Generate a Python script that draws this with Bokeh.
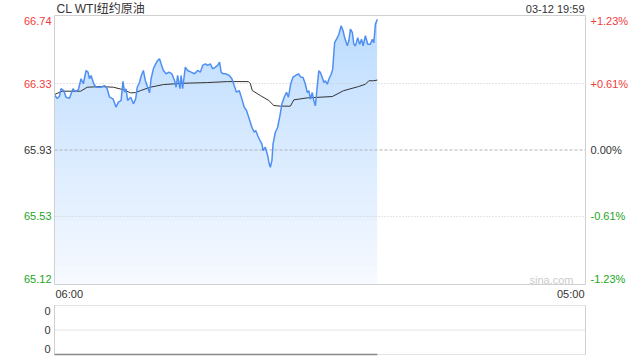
import numpy as np
from bokeh.plotting import figure
from bokeh.layouts import column
from bokeh.models import Range1d, Label
from bokeh.embed import file_html
from bokeh.resources import INLINE

# ---------------- data ----------------
title_text = "CL WTI纽约原油"
stamp_text = "03-12 19:59"
watermark = "sina.com"
prev_close = 65.93
session_minutes = 1380            # 06:00 -> 05:00 next day
price_ticks = [66.74, 66.33, 65.93, 65.53, 65.12]
price_tick_labels = ["66.74", "66.33", "65.93", "65.53", "65.12"]
pct_tick_labels = ["+1.23%", "+0.61%", "0.00%", "-0.61%", "-1.23%"]
time_labels = ["06:00", "05:00"]

# minutes since 06:00
t_min = [0, 7, 13, 17, 24, 30, 39, 48, 54, 62, 69, 75, 82, 87, 91, 95, 102, 108, 121, 130,
         137, 143, 152, 160, 166, 173, 178, 182, 186, 190, 198, 205, 211, 215, 221, 225, 231, 236, 242, 247,
         251, 257, 263, 268, 273, 277, 283, 290, 298, 305, 312, 316, 320, 326, 329, 333, 340, 346, 355, 364,
         372, 379, 385, 392, 398, 405, 411, 418, 424, 429, 433, 439, 445, 454, 461, 467, 473, 480, 487, 493,
         499, 506, 513, 519, 523, 528, 534, 539, 542, 548, 554, 558, 561, 565, 568, 574, 580, 586, 591, 597,
         603, 608, 614, 620, 627, 634, 640, 646, 652, 657, 661, 665, 670, 674, 678, 683, 687, 691, 696, 700,
         704, 709, 713, 719, 723, 728, 733, 739, 745, 750, 754, 761, 765, 769, 774, 778, 782, 788, 793, 798,
         802, 808, 814, 821, 826, 830, 834, 839]
price = [66.262, 66.240, 66.254, 66.299, 66.288, 66.248, 66.242, 66.299, 66.282, 66.293, 66.359, 66.329, 66.409, 66.399, 66.359, 66.379, 66.329, 66.308, 66.308, 66.318,
         66.299, 66.248, 66.238, 66.188, 66.218, 66.228, 66.343, 66.278, 66.299, 66.228, 66.248, 66.208, 66.238, 66.308, 66.338, 66.374, 66.409, 66.349, 66.308, 66.274,
         66.359, 66.419, 66.449, 66.469, 66.479, 66.449, 66.409, 66.389, 66.399, 66.389, 66.349, 66.308, 66.379, 66.299, 66.379, 66.299, 66.429, 66.409, 66.399, 66.389,
         66.409, 66.399, 66.439, 66.449, 66.439, 66.449, 66.419, 66.429, 66.439, 66.459, 66.399, 66.389, 66.389, 66.379, 66.359, 66.318, 66.278, 66.288, 66.238, 66.188,
         66.168, 66.118, 66.067, 66.037, 66.047, 66.017, 65.987, 65.967, 65.927, 65.947, 65.897, 65.847, 65.826, 65.867, 65.967, 66.037, 66.067, 66.138, 66.208, 66.248,
         66.278, 66.248, 66.329, 66.369, 66.379, 66.389, 66.369, 66.367, 66.326, 66.276, 66.287, 66.236, 66.276, 66.226, 66.196, 66.317, 66.407, 66.397, 66.367, 66.336,
         66.347, 66.326, 66.356, 66.386, 66.417, 66.577, 66.597, 66.627, 66.678, 66.648, 66.607, 66.557, 66.588, 66.658, 66.638, 66.567, 66.557, 66.607, 66.567, 66.597,
         66.557, 66.618, 66.567, 66.567, 66.597, 66.577, 66.688, 66.718]

avg_t = [0, 20, 68, 85, 120, 153, 179, 198, 211, 224, 249, 283, 335, 397, 449, 504, 509, 514, 535, 557,
         570, 587, 613, 622, 657, 722, 751, 790, 808, 817, 829, 839]
avg_price = [66.264, 66.284, 66.284, 66.308, 66.312, 66.308, 66.293, 66.274, 66.276, 66.288, 66.308, 66.324, 66.332, 66.336, 66.342, 66.342, 66.330, 66.288, 66.258, 66.228,
             66.198, 66.194, 66.194, 66.232, 66.244, 66.252, 66.287, 66.312, 66.326, 66.347, 66.347, 66.351]

vol_ticks = [1.0, 0.5, 0.0]
vol_tick_labels = ["0", "0", "0"]
vol_t = [0, 839]
volume = [0, 0]

# ---------------- style / layout ----------------
FONT = "Liberation Sans, Noto Sans CJK SC"
RED = "#f03c3c"
GREEN = "#22a622"
DARK = "#333333"
LINE_BLUE = "#4f8ff2"
BORDER = "#d0d0d0"

W = 640
H_MAIN, H_VOL = 300, 60
PAD_L, PAD_R = 54, 55          # pixels left/right of the plotting box
MAIN_TOP, MAIN_BOT = 15, 16     # pixels above/below the price box
VOL_TOP, VOL_BOT = 5, 6

def tick_color(v):
    if abs(v - prev_close) < 1e-9:
        return DARK
    return RED if v > prev_close else GREEN

t_arr = np.array(t_min, dtype=float)
p_arr = np.array(price, dtype=float)
ymin, ymax = min(price_ticks), max(price_ticks)

# x range padded so the text margins live inside the frame
box_w = W - PAD_L - PAD_R
mpp = session_minutes / box_w
xr = Range1d(-PAD_L * mpp, session_minutes + PAD_R * mpp)
ppp = (ymax - ymin) / (H_MAIN - MAIN_TOP - MAIN_BOT)
yr = Range1d(ymin - MAIN_BOT * ppp, ymax + MAIN_TOP * ppp)

p = figure(width=W, height=H_MAIN, x_axis_type=None, y_axis_type=None,
           x_range=xr, y_range=yr, toolbar_location=None, output_backend="svg",
           min_border=0, min_border_left=0, min_border_right=0, min_border_top=0, min_border_bottom=0)
p.outline_line_color = None
p.background_fill_color = "white"
p.border_fill_color = "white"

# gradient-like area fill under the price line
p.varea(x=t_arr, y1=np.full_like(p_arr, ymin), y2=p_arr, fill_color="#f6f9ff", fill_alpha=1.0)
n_layers = 30
for k in range(1, n_layers + 1):
    lvl = ymin + (ymax - ymin) * k / n_layers
    p.varea(x=t_arr, y1=np.minimum(lvl, p_arr), y2=p_arr, fill_color="#3c80f0", fill_alpha=0.0095)

# grid lines
for v in price_ticks[1:-1]:
    if abs(v - prev_close) < 1e-9:
        p.segment(x0=[0], x1=[session_minutes], y0=[v], y1=[v], line_color="#b0b0b0",
                  line_width=1, line_dash="3 2")
    else:
        p.segment(x0=[0], x1=[session_minutes], y0=[v], y1=[v], line_color="#c8c8c8",
                  line_width=1, line_dash="1 2")

p.line(avg_t, avg_price, line_color="#333333", line_width=1)
p.line(t_min, price, line_color=LINE_BLUE, line_width=1.5)

# box border
p.quad(left=[0], right=[session_minutes], bottom=[ymin], top=[ymax], fill_color=None,
       line_color=BORDER, line_width=1)

# tick labels
n = len(price_ticks)
for i, (v, lab, pl) in enumerate(zip(price_ticks, price_tick_labels, pct_tick_labels)):
    yoff = -5 if i == 0 else (6 if i == n - 1 else 0)
    c = tick_color(v)
    p.add_layout(Label(x=0, y=v, text=lab, x_offset=-3, y_offset=yoff, text_align="right",
                       text_baseline="middle", text_font=FONT, text_font_size="11px", text_color=c))
    p.add_layout(Label(x=session_minutes, y=v, text=pl, x_offset=5, y_offset=yoff, text_align="left",
                       text_baseline="middle", text_font=FONT, text_font_size="11px", text_color=c))

p.add_layout(Label(x=0, y=ymin, text=time_labels[0], x_offset=1, y_offset=-9, text_align="left",
                   text_baseline="middle", text_font=FONT, text_font_size="11px", text_color=DARK))
p.add_layout(Label(x=session_minutes, y=ymin, text=time_labels[1], x_offset=-1, y_offset=-9,
                   text_align="right", text_baseline="middle", text_font=FONT, text_font_size="11px",
                   text_color=DARK))
p.add_layout(Label(x=0, y=ymax, text=title_text, x_offset=2, y_offset=7, text_align="left",
                   text_baseline="middle", text_font=FONT, text_font_size="12px", text_color=DARK))
p.add_layout(Label(x=session_minutes, y=ymax, text=stamp_text, x_offset=-1, y_offset=7,
                   text_align="right", text_baseline="middle", text_font=FONT, text_font_size="11px",
                   text_color=DARK))
p.add_layout(Label(x=session_minutes, y=ymin, text=watermark, x_offset=-12, y_offset=5,
                   text_align="right", text_baseline="middle", text_font=FONT, text_font_size="11px",
                   text_color="#cccccc"))

# ---------------- volume panel ----------------
vpp = 1.0 / (H_VOL - VOL_TOP - VOL_BOT)
q = figure(width=W, height=H_VOL, x_axis_type=None, y_axis_type=None,
           x_range=Range1d(xr.start, xr.end), y_range=Range1d(0 - VOL_BOT * vpp, 1 + VOL_TOP * vpp),
           toolbar_location=None, output_backend="svg",
           min_border=0, min_border_left=0, min_border_right=0, min_border_top=0, min_border_bottom=0)
q.outline_line_color = None
q.background_fill_color = "white"
q.border_fill_color = "white"
q.segment(x0=[0] * len(vol_ticks), x1=[session_minutes] * len(vol_ticks), y0=vol_ticks, y1=vol_ticks,
          line_color="#c8c8c8", line_width=1, line_dash="1 1")
q.segment(x0=[0, session_minutes], x1=[0, session_minutes], y0=[0, 0], y1=[1, 1],
          line_color=BORDER, line_width=1)
q.line(vol_t, volume, line_color="#888888", line_width=1.5)
m = len(vol_ticks)
for i, (v, lab) in enumerate(zip(vol_ticks, vol_tick_labels)):
    yoff = -5 if i == 0 else (6 if i == m - 1 else 0)
    q.add_layout(Label(x=0, y=v, text=lab, x_offset=-4, y_offset=yoff, text_align="right",
                       text_baseline="middle", text_font=FONT, text_font_size="11px", text_color=DARK))

layout = column(p, q, spacing=0)
open("out.html", "w").write(file_html(layout, INLINE))
